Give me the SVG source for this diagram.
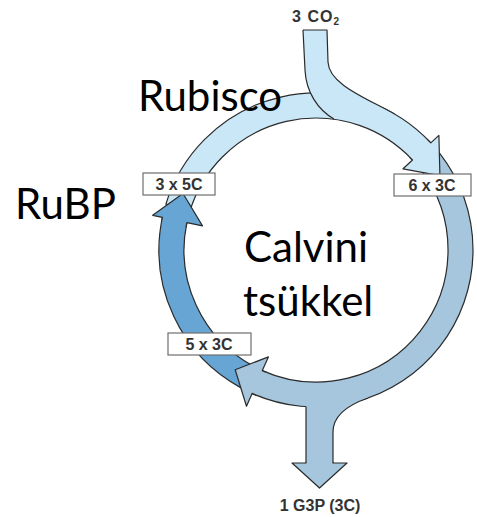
<svg xmlns="http://www.w3.org/2000/svg" width="477" height="517" viewBox="0 0 477 517">
<style>
.edge{stroke:#2b2b2b;stroke-width:1.2;stroke-linejoin:round}
.light{fill:#c9e7f7}
.gray{fill:#a5c6dc}
.dark{fill:#67a6d4}
.box{fill:#ffffff;stroke:#6e6e6e;stroke-width:1.2}
.bt{font-family:"Liberation Sans",Arial,sans-serif;font-weight:bold;font-size:16px;fill:#333;text-anchor:middle}
.big{font-family:Lato,"Open Sans",sans-serif;font-size:42px;fill:#000}
</style>
<rect width="477" height="517" fill="#ffffff"/>
<g id="connectors">
  <path class="gray edge" d="M262.3,370.6 A132,132 0 0 0 420.0,168.7 L439.7,153.3 A157,157 0 0 1 252.1,393.4"/>
  <path class="dark edge" d="M186.9,222.6 A132,132 0 0 0 254.0,366.5 L242.3,388.6 A157,157 0 0 1 162.4,217.4"/>
  <path class="light edge" d="M412.5,160.0 A132,132 0 0 0 189.8,211.4 L165.9,204.1 A157,157 0 0 1 430.8,142.9"/>
  <path class="light" d="M303,30 L327,30 L328,62 C329,85 368.5,99 394.5,114 L380,122 L334,119 C318,110 306,92 305,70 Z"/>
  <path class="edge" fill="none" d="M303,30 L327,30 L328,62 C329,85 368.5,99 394.5,114"/>
  <path class="edge" fill="none" d="M303,30 L305,70 C306,92 318,110 334,119"/>
  <path class="gray" d="M306,463 L306,398 L368,392 L368,398 C349,404.6 333,415 333,432 L333,463 Z"/>
  <path class="edge" fill="none" d="M306,463 L306,406.5"/>
  <path class="edge" fill="none" d="M333,463 L333,432 C333,415 349,404.6 368,398"/>
  <path class="light edge" d="M427.0,139.0 A157,157 0 0 1 430.8,142.9 L438.9,135.4 L439.9,175.6 L403.0,168.8 L412.5,160.0 A132,132 0 0 0 409.3,156.7"/>
  <path class="gray edge" d="M257.2,395.6 A157,157 0 0 1 252.1,393.4 L246.5,406.2 L235.2,369.8 L268.4,356.9 L262.3,370.6 A132,132 0 0 0 266.6,372.4"/>
  <path class="dark edge" d="M161.4,222.7 A157,157 0 0 1 162.4,217.4 L152.7,215.3 L183.0,193.5 L202.5,225.9 L186.9,222.6 A132,132 0 0 0 186.0,227.1"/>
  <path class="gray edge" d="M306,462 L306,463 L292,463 L319.5,488 L347,463 L333,463 L333,462"/>
</g>
<g id="node-3x5C">
  <rect class="box" x="143" y="173" width="72" height="22"/>
  <text class="bt" x="179" y="190">3 x 5C</text>
</g>
<g id="node-6x3C">
  <rect class="box" x="394" y="174" width="77" height="22"/>
  <text class="bt" x="432" y="191">6 x 3C</text>
</g>
<g id="node-5x3C">
  <rect class="box" x="168" y="333" width="83" height="22"/>
  <text class="bt" x="209" y="350">5 x 3C</text>
</g>
<g id="label-co2">
  <text class="bt" x="316" y="22" font-size="14" letter-spacing="1">3 CO<tspan font-size="10" dy="3">2</tspan></text>
</g>
<g id="label-g3p">
  <text class="bt" x="320" y="511" font-size="17">1 G3P (3C)</text>
</g>
<g id="label-rubisco"><text class="big" x="138" y="111">Rubisco</text></g>
<g id="label-rubp"><text class="big" x="15" y="219">RuBP</text></g>
<g id="label-calvin">
  <text class="big" x="244" y="262">Calvini</text>
  <text class="big" x="243" y="316">tsükkel</text>
</g>
</svg>
